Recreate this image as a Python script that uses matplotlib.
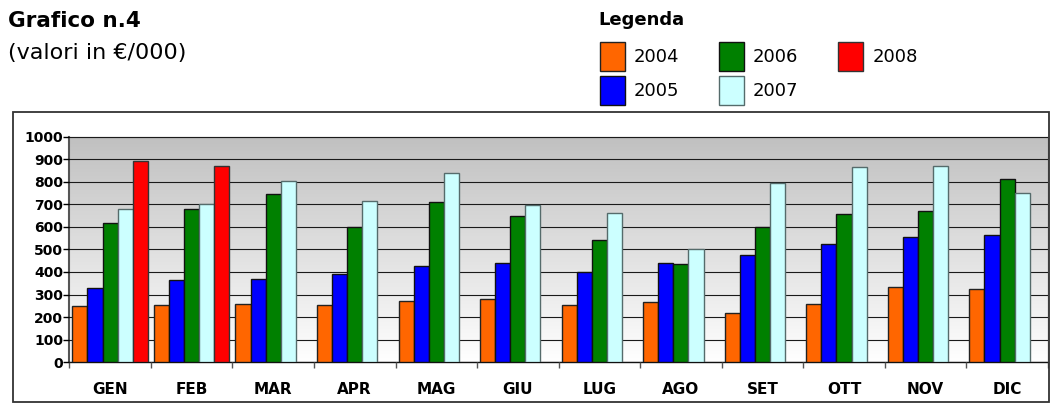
import numpy as np
import matplotlib
matplotlib.use('Agg')
import matplotlib.pyplot as plt
from matplotlib.patches import Rectangle

# Monthly values (thousands of euro)
months = ['GEN', 'FEB', 'MAR', 'APR', 'MAG', 'GIU', 'LUG', 'AGO', 'SET', 'OTT', 'NOV', 'DIC']
years = ['2004', '2005', '2006', '2007', '2008']
v2004 = [250, 255, 260, 255, 270, 280, 255, 265, 220, 260, 335, 325]
v2005 = [330, 365, 370, 390, 425, 440, 400, 440, 475, 525, 555, 565]
v2006 = [615, 680, 745, 600, 710, 650, 540, 435, 600, 655, 670, 810]
v2007 = [680, 700, 805, 715, 840, 695, 660, 500, 795, 865, 870, 750]
v2008 = [890, 870]

colors = ['#ff6600', '#0000ff', '#008000', '#ccffff', '#ff0000']
edges = ['#222222', '#111111', '#111111', '#556b6b', '#333333']

fig = plt.figure(figsize=(10.5, 4.15), dpi=100)
ax = fig.add_axes([0.066, 0.127, 0.932, 0.544])

x = np.arange(len(months))
w = 0.185
series = [v2004, v2005, v2006, v2007, v2008]
handles = []
for k, vals in enumerate(series):
    xs = x[:len(vals)] + (k - 2) * w
    b = ax.bar(xs, vals, width=w, color=colors[k], edgecolor=edges[k],
               linewidth=1.0, zorder=3, label=years[k])
    handles.append(b)

ax.set_xlim(-0.5, len(months) - 0.5)
ax.set_ylim(0, 1000)

# grey-to-white gradient behind the bars
grad = np.linspace(1, 0, 256).reshape(-1, 1)
ax.imshow(grad, extent=[-0.5, len(months) - 0.5, 0, 1000], aspect='auto',
          cmap=matplotlib.colors.LinearSegmentedColormap.from_list('bg', ['#ffffff', '#c0c0c0']),
          vmin=0, vmax=1, zorder=0, origin='upper', interpolation='bilinear')

ax.set_yticks(range(0, 1001, 100))
ax.yaxis.grid(True, color='#1a1a1a', linewidth=0.8, zorder=1)
ax.set_axisbelow(False)
for gl in ax.get_ygridlines():
    gl.set_zorder(1)

ax.set_xticks(x)
ax.set_xticklabels(months, fontsize=11, fontweight='bold')
ax.set_xticks(np.arange(-0.5, len(months)), minor=True)
ax.tick_params(axis='x', which='major', length=0, pad=14)
ax.tick_params(axis='x', which='minor', length=4, width=1, color='#555555')
ax.tick_params(axis='y', length=4.5, width=1, pad=0, labelsize=10)
for t in ax.get_yticklabels():
    t.set_fontweight('bold')

ax.spines['left'].set_color('#555555')
ax.spines['left'].set_linewidth(1.5)
ax.spines['bottom'].set_color('#111111')
ax.spines['bottom'].set_linewidth(1.0)
ax.spines['top'].set_color('#a0a0a0')
ax.spines['top'].set_linewidth(1.0)
ax.spines['right'].set_color('#a0a0a0')
ax.spines['right'].set_linewidth(1.0)

# frame around the chart
fig.patches.append(Rectangle((0.012, 0.031), 0.987, 0.699, transform=fig.transFigure,
                             fill=False, edgecolor='#333333', linewidth=1.3))

fig.text(0.008, 0.935, 'Grafico n.4', fontsize=15.5, fontweight='bold', va='baseline')
fig.text(0.008, 0.857, '(valori in €/000)', fontsize=16, va='baseline')
fig.text(0.570, 0.940, 'Legenda', fontsize=13, fontweight='bold', va='baseline')

fs = 13
fig.legend(handles=handles, labels=years, ncol=3, loc='upper left',
           bbox_to_anchor=(600 / 1050, 1 - 42 / 415), frameon=False,
           fontsize=fs, borderpad=0, borderaxespad=0,
           handlelength=1.38, handleheight=2.09, handletextpad=0.5,
           columnspacing=2.2, labelspacing=0.28)

fig.savefig('out.png', dpi=100)
